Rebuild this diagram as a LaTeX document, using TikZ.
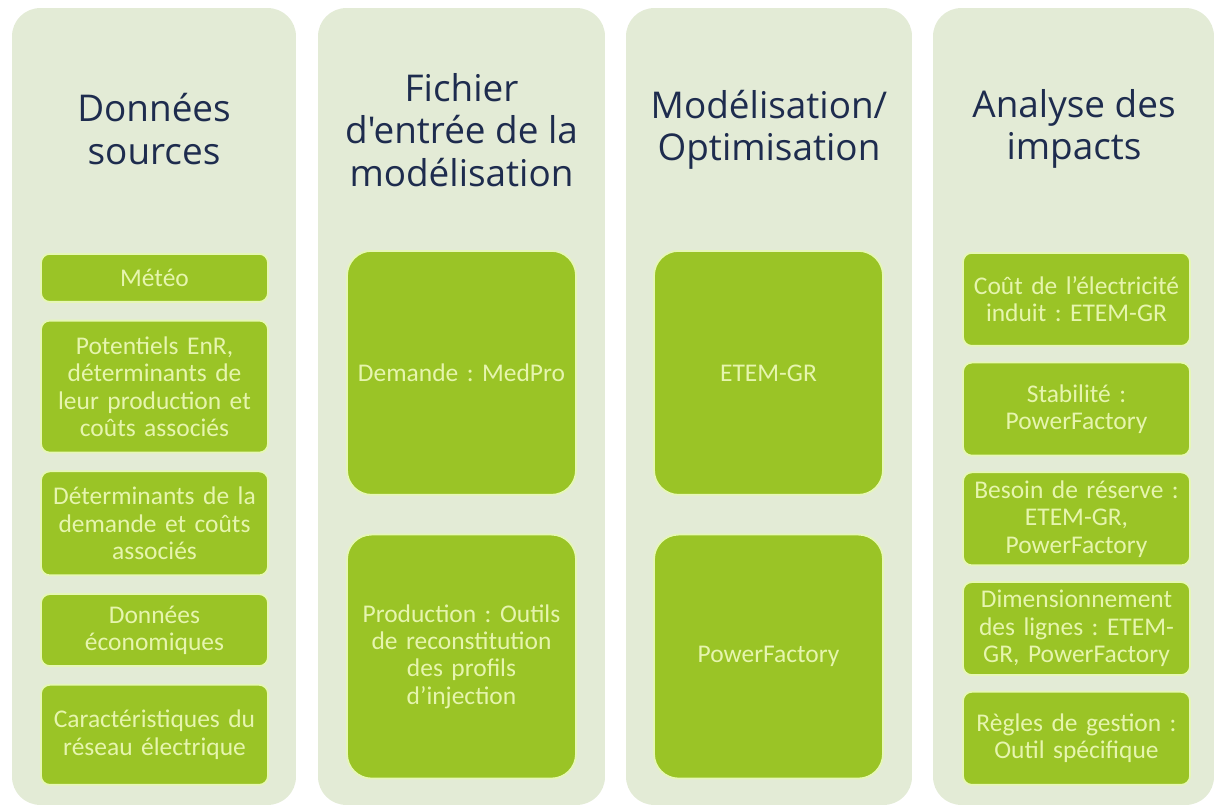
\documentclass[tikz,border=0pt]{standalone}
\usepackage{fontspec}
\setmainfont{Carlito}[WordSpace=0.8]
\newfontfamily\headfont{Open Sans}
\usetikzlibrary{positioning}
\definecolor{colbg}{HTML}{E3EBD6}
\definecolor{boxgreen}{HTML}{9AC426}
\definecolor{boxedge}{HTML}{E6F7B6}
\definecolor{boxtext}{HTML}{E6F5AE}
\definecolor{headnavy}{HTML}{1E2C4E}
\tikzset{column/.style={rectangle,rounded corners=16pt,fill=colbg,inner sep=0pt,
    minimum width=5.7cm,minimum height=15.94cm}}
\tikzset{headline/.style={text=headnavy,align=center,
    font=\headfont\fontsize{21}{24}\selectfont}}
\tikzset{smallbox/.style={rectangle,rounded corners=5pt,fill=boxgreen,draw=boxedge,
    line width=1pt,text=boxtext,align=center,inner sep=1pt,
    minimum width=4.54cm,text width=4.4cm,font=\fontsize{14.5}{15.6}\selectfont}}
\tikzset{bigbox/.style={smallbox,rounded corners=14pt,minimum width=4.58cm,
    minimum height=4.88cm}}
\frenchspacing

\begin{document}
\begin{tikzpicture}[x=0.02cm, y=-0.02cm]
    \useasboundingbox (0,0) rectangle (1216,811);

    \node[column, minimum width=5.68cm] (col-1) at (154,406.5) {};
    \node[column, minimum width=5.74cm] (col-2) at (461.5,406.5) {};
    \node[column, minimum width=5.72cm] (col-3) at (769,406.5) {};
    \node[column, minimum width=5.62cm] (col-4) at (1073.5,406.5) {};

    \node[headline] (head-1) at (154,129) {Données\\sources};
    \node[headline] (head-2) at (461.5,130) {Fichier\\d'entrée de la\\modélisation};
    \node[headline] (head-3) at (769,130) {Modélisation/\\Optimisation};
    \node[headline] (head-4) at (1074,129) {Analyse des\\impacts};

    \node[smallbox, minimum height=0.96cm, anchor=north] (box-1-1) at (154.5,253) {Météo};
    \node[smallbox, minimum height=2.64cm, below=0.34cm of box-1-1] (box-1-2)
      {Potentiels EnR,\\déterminants de\\leur production et\\coûts associés};
    \node[smallbox, minimum height=2.08cm, below=0.34cm of box-1-2] (box-1-3)
      {Déterminants de la\\demande et coûts\\associés};
    \node[smallbox, minimum height=1.44cm, below=0.34cm of box-1-3] (box-1-4)
      {Données\\économiques};
    \node[smallbox, minimum height=2.0cm, below=0.34cm of box-1-4] (box-1-5)
      {Caractéristiques du\\réseau électrique};

    \node[bigbox, anchor=north] (box-2-1) at (461.5,250) {Demande : MedPro};
    \node[bigbox, below=0.76cm of box-2-1] (box-2-2)
      {Production : Outils\\de reconstitution\\des profils\\d'injection};

    \node[bigbox, anchor=north] (box-3-1) at (768.5,250) {ETEM-GR};
    \node[bigbox, below=0.76cm of box-3-1] (box-3-2) {PowerFactory};

    \node[smallbox, minimum height=1.86cm, anchor=north] (box-4-1) at (1076.5,252)
      {Coût de l'électricité\\induit : ETEM-GR};
    \node[smallbox, minimum height=1.86cm, below=0.3cm of box-4-1] (box-4-2)
      {Stabilité :\\PowerFactory};
    \node[smallbox, minimum height=1.86cm, below=0.3cm of box-4-2] (box-4-3)
      {Besoin de réserve :\\ETEM-GR,\\PowerFactory};
    \node[smallbox, minimum height=1.86cm, below=0.3cm of box-4-3] (box-4-4)
      {Dimensionnement\\des lignes : ETEM-\\GR, PowerFactory};
    \node[smallbox, minimum height=1.86cm, below=0.3cm of box-4-4] (box-4-5)
      {Règles de gestion :\\Outil spécifique};
\end{tikzpicture}
\end{document}
